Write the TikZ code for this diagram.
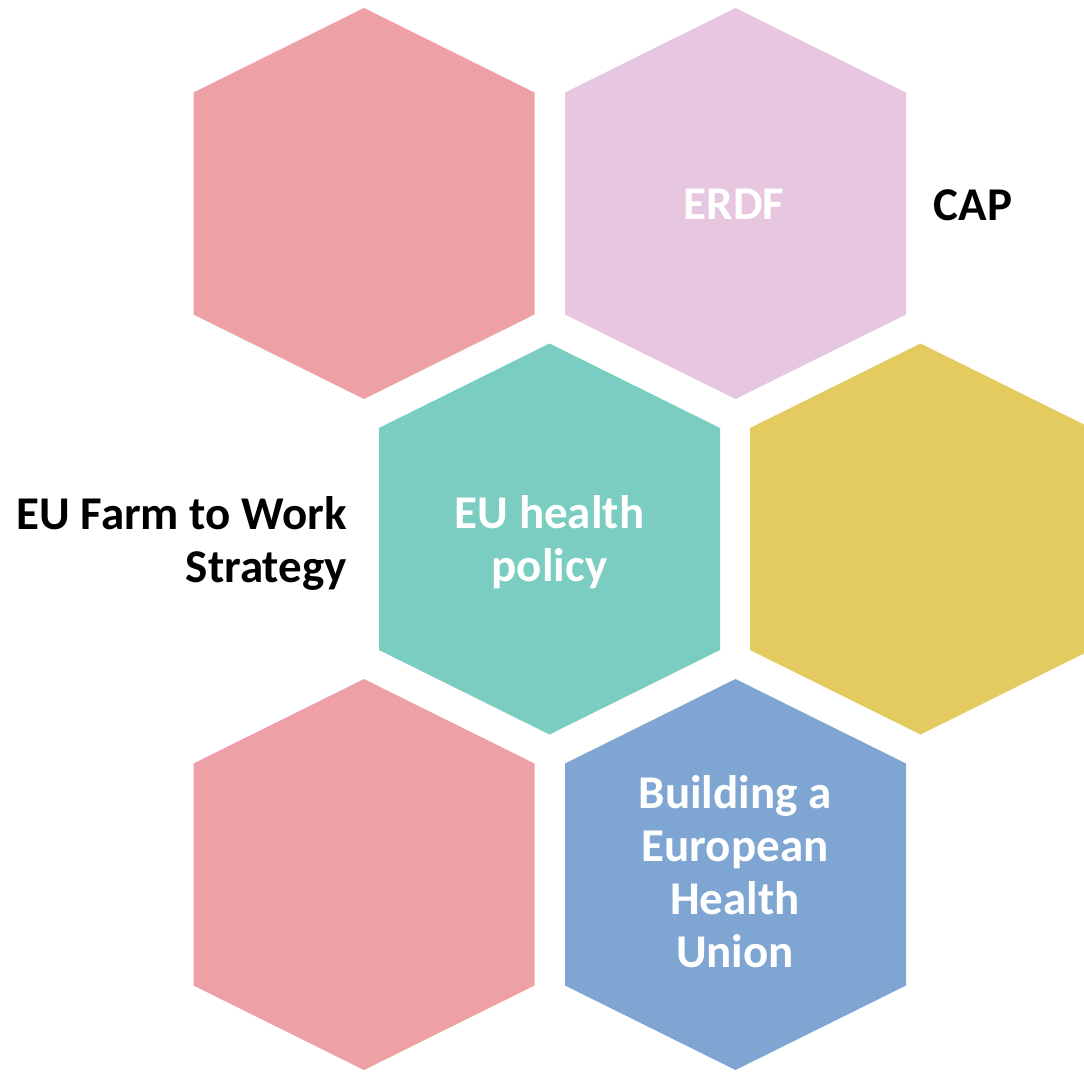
\documentclass[tikz,border=0pt]{standalone}
\usepackage{fontspec}
\setmainfont{Carlito}
\definecolor{hexpink}{RGB}{237,160,165}
\definecolor{hexlilac}{RGB}{231,199,224}
\definecolor{hexteal}{RGB}{122,205,192}
\definecolor{hexyellow}{RGB}{228,203,96}
\definecolor{hexblue}{RGB}{127,166,210}
\begin{document}
\begin{tikzpicture}[x=1pt,y=-1pt,
  hexshape/.style={fill=#1,draw=none},
  lbl/.style={font=\fontsize{47}{53}\selectfont\bfseries,align=center,inner sep=0pt,anchor=base},
  lblin/.style={lbl,text=white},
  lblout/.style={lbl,text=black}]
\useasboundingbox (0,0) rectangle (1084,1071);
\clip (0,0) rectangle (1084,1071);
\fill[white] (0,0) rectangle (1084,1071);
\foreach \cx/\cy/\col in {364/203.5/hexpink,735.5/203.5/hexlilac,549.5/539/hexteal,920.5/539/hexyellow,364/874.5/hexpink,735.5/874.5/hexblue}{
  \fill[hexshape=\col] (\cx,{\cy-195.5}) -- ({\cx+170.5},{\cy-111}) -- ({\cx+170.5},{\cy+111}) -- (\cx,{\cy+195.5}) -- ({\cx-170.5},{\cy+111}) -- ({\cx-170.5},{\cy-111}) -- cycle;
}
\node[lblin] (erdf) at (734,219) {ERDF};
\node[lblout] (cap) at (973,220) {CAP};
\node[lblin] (health) at (549.5,581) {EU health\\policy};
\node[lblout,align=right,anchor=base east] (farm) at (347,582) {EU Farm to Work\\Strategy};
\node[lblin] (union) at (735,967) {Building a\\European\\Health\\Union};
\end{tikzpicture}
\end{document}
